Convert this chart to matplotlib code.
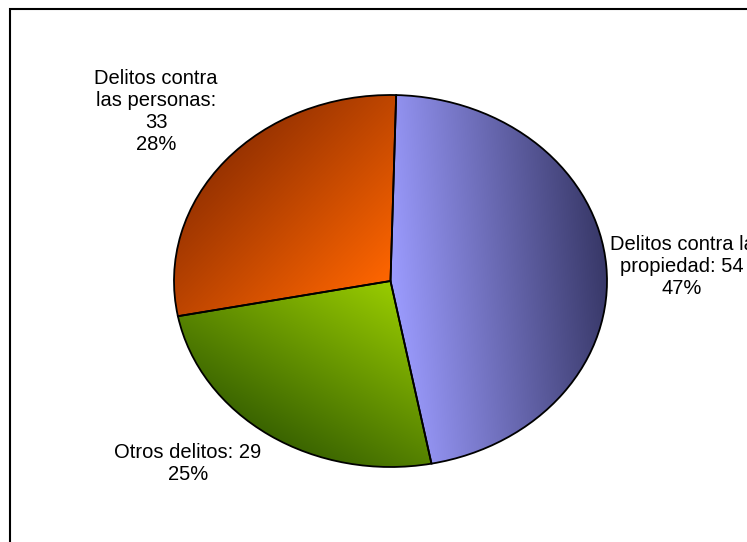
import matplotlib.pyplot as plt
from matplotlib.patches import Rectangle
import numpy as np

# datos del gráfico
categorias = ['Delitos contra la\npropiedad', 'Otros delitos', 'Delitos contra\nlas personas']
valores = [54, 29, 33]
separadores = [' ', ' ', '\n']
colores_claros = ['#9C9CFF', '#99CC00', '#FF6600']
colores_oscuros = ['#383868', '#3A6400', '#993300']

# posiciones de las etiquetas (pixeles de la figura)
pos_etiquetas = [(682, 266), (188, 464), (156, 111)]

W, H = 747, 542
fig = plt.figure(figsize=(W / 100, H / 100), dpi=100)
fig.patch.set_facecolor('white')

# elipse del pastel: x 174..607, y 95..467
ax = fig.add_axes([174 / W, (H - 467) / H, 433 / W, 372 / H])
wedges, _ = ax.pie(valores, startangle=88.5, counterclock=False, radius=1,
                   wedgeprops=dict(edgecolor='black', linewidth=1.3))

N = 400
u = np.linspace(-1, 1, N)
v = np.linspace(1, -1, N)
U, V = np.meshgrid(u, v)
for w, claro, oscuro in zip(wedges, colores_claros, colores_oscuros):
    fi = np.deg2rad((w.theta1 + w.theta2) / 2)
    t = np.clip(U * np.cos(fi) + V * np.sin(fi), 0, 1)
    c1 = np.array(plt.matplotlib.colors.to_rgb(claro))
    c2 = np.array(plt.matplotlib.colors.to_rgb(oscuro))
    rgb = c1 + (c2 - c1) * t[..., None]
    im = ax.imshow(rgb, extent=(-1, 1, -1, 1), origin='upper', aspect='auto',
                   interpolation='bilinear', zorder=1)
    im.set_clip_path(w)
    w.set_facecolor('none')
    w.set_zorder(2)
    w.set_clip_on(False)

ax.set_aspect('auto')
ax.set_xlim(-1, 1)
ax.set_ylim(-1, 1)
ax.set_axis_off()

total = sum(valores)
for nombre, val, sep, (px, py) in zip(categorias, valores, separadores, pos_etiquetas):
    pct = round(val / total * 100)
    texto = f"{nombre}:{sep}{val}\n{pct}%"
    fig.text(px / W, 1 - py / H, texto, ha='center', va='center',
             fontsize=14.5, family='Liberation Sans', linespacing=1.2)

# marco del área del gráfico (recortado a la derecha y abajo)
fig.add_artist(Rectangle((10 / W, -0.1), 1.2, 1 - 9 / H + 0.1,
                         transform=fig.transFigure, fill=False,
                         edgecolor='black', linewidth=1.5))

fig.savefig('out.png', dpi=100)
